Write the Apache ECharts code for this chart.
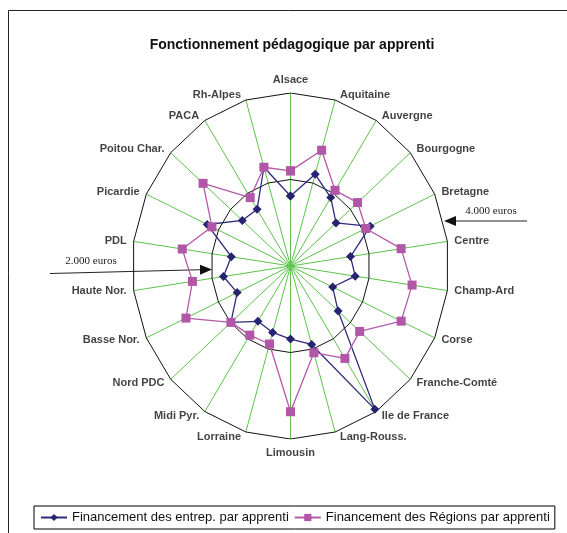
<!DOCTYPE html>
<html>
<head>
<meta charset="utf-8">
<script src="https://cdn.jsdelivr.net/npm/echarts@6/dist/echarts.min.js"></script>
<style>
  html, body { margin: 0; padding: 0; background: #fff; }
  #chart { width: 567px; height: 533px; }
</style>
</head>
<body>
<div id="chart"></div>
<script>
// régions, dans le sens des aiguilles d'une montre depuis le haut
const regions = [
  "Alsace", "Aquitaine", "Auvergne", "Bourgogne", "Bretagne", "Centre",
  "Champ-Ard", "Corse", "Franche-Comté", "Ile de France", "Lang-Rouss.",
  "Limousin", "Lorraine", "Midi Pyr.", "Nord PDC", "Basse Nor.",
  "Haute Nor.", "PDL", "Picardie", "Poitou Char.", "PACA", "Rh-Alpes"
];
// Financement des entrep. par apprenti (euros)
const entrep = [
  1620, 2210, 1880, 1520, 2210, 1530, 1650, 1170, 1590, 3940, 1890,
  1690, 1600, 1520, 1990, 1480, 1710, 1510, 2310, 1610, 1560, 2380
];
// Financement des Régions par apprenti (euros)
const regionsFin = [
  2200, 2790, 2080, 2240, 2090, 2820, 3100, 3070, 2310, 2540, 2090,
  3370, 1880, 1900, 1990, 2900, 2500, 2760, 2180, 2920, 1880, 2380
];
// cercles de la grille (euros)
const rings = [2000, 4000];
const maxValue = 4000;

const seriesNames = [
  "Financement des entrep. par apprenti",
  "Financement des Régions par apprenti",
];

// l'original est un radar un peu écrasé en largeur : on le trace dans une
// grille cartésienne dont les axes x et y n'ont pas la même échelle
const n = regions.length;
const angleOf = (i) => (i / n) * Math.PI * 2;
const toXY = (v, i) => [v * Math.sin(angleOf(i)), v * Math.cos(angleOf(i))];
const loop = (values) => {
  const pts = values.map((v, i) => toXY(v, i));
  pts.push(pts[0]);
  return pts;
};

const font = "Liberation Sans, Arial";

const chart = echarts.init(document.getElementById("chart"));

const option = {
  animation: false,
  title: {
    text: "Fonctionnement pédagogique par apprenti",
    left: 287,
    top: 33,
    textAlign: "center",
    textStyle: {
      fontFamily: font,
      fontSize: 14,
      fontWeight: "bold",
      color: "#111",
    },
  },
  legend: {
    left: 34,
    top: 506,
    width: 512,
    orient: "horizontal",
    borderColor: "#000",
    borderWidth: 1,
    padding: [5, 5, 5, 6],
    itemWidth: 26,
    itemHeight: 9,
    itemGap: 5,
    textStyle: { fontFamily: font, fontSize: 13, color: "#111" },
    data: seriesNames,
  },
  grid: { left: 132, width: 317, top: 93, height: 346 },
  xAxis: { type: "value", min: -maxValue, max: maxValue, show: false },
  yAxis: { type: "value", min: -maxValue, max: maxValue, show: false },
  series: [
    // rayons verts
    {
      type: "lines",
      coordinateSystem: "cartesian2d",
      silent: true,
      z: 1,
      lineStyle: { color: "#5cc24a", width: 1, opacity: 1 },
      data: regions.map((r, i) => ({ coords: [[0, 0], toXY(maxValue, i)] })),
    },
    // cercles 2.000 et 4.000
    ...rings.map((v) => ({
      type: "line",
      silent: true,
      z: 2,
      symbol: "none",
      lineStyle: { color: "#111", width: 1 },
      data: loop(regions.map(() => v)),
    })),
    {
      name: seriesNames[0],
      type: "line",
      z: 3,
      symbol: "diamond",
      symbolSize: 9,
      itemStyle: { color: "#26246e" },
      lineStyle: { color: "#2d2b7c", width: 1.3 },
      data: loop(entrep),
    },
    {
      name: seriesNames[1],
      type: "line",
      z: 4,
      symbol: "rect",
      symbolSize: 9,
      itemStyle: { color: "#b256a8" },
      lineStyle: { color: "#b35aa9", width: 1.3 },
      data: loop(regionsFin),
    },
    // noms des régions
    {
      type: "scatter",
      silent: true,
      symbolSize: 0,
      z: 5,
      data: regions.map((name, i) => {
        const a = angleOf(i);
        const s = Math.sin(a);
        let position = s > 0.01 ? "right" : s < -0.01 ? "left" : Math.cos(a) > 0 ? "top" : "bottom";
        const vertical = position === "top" || position === "bottom";
        return {
          name,
          value: toXY(maxValue, i),
          label: {
            position,
            distance: vertical ? 8 : 4 + 3 * Math.abs(s),
            offset: vertical ? [0, 0] : [0, -5 * Math.cos(a)],
          },
        };
      }),
      label: {
        show: true,
        formatter: "{b}",
        fontFamily: font,
        fontSize: 11,
        fontWeight: "bold",
        color: "#111",
      },
    },
  ],
  graphic: [
    // cadre
    {
      type: "rect",
      shape: { x: 8.5, y: 10.5, width: 580, height: 560 },
      style: { fill: "none", stroke: "#222", lineWidth: 1 },
      silent: true,
    },
    // annotation 4.000 euros
    {
      type: "line",
      shape: { x1: 527, y1: 221, x2: 452, y2: 221 },
      style: { stroke: "#222", lineWidth: 1 },
    },
    {
      type: "polygon",
      shape: { points: [[444, 221], [456, 216], [456, 226]] },
      style: { fill: "#111" },
    },
    {
      type: "text",
      x: 491,
      y: 211,
      style: {
        text: "4.000 euros",
        font: "11px Liberation Serif, Times New Roman",
        fill: "#222",
        align: "center",
        verticalAlign: "middle",
      },
    },
    // annotation 2.000 euros
    {
      type: "line",
      shape: { x1: 50, y1: 273.5, x2: 202, y2: 269.7 },
      style: { stroke: "#222", lineWidth: 1 },
    },
    {
      type: "polygon",
      shape: { points: [[212, 269.4], [200, 264.7], [200, 274.7]] },
      style: { fill: "#111" },
    },
    {
      type: "text",
      x: 91,
      y: 261,
      style: {
        text: "2.000 euros",
        font: "11px Liberation Serif, Times New Roman",
        fill: "#222",
        align: "center",
        verticalAlign: "middle",
      },
    },
  ],
};

chart.setOption(option);
</script>
</body>
</html>
